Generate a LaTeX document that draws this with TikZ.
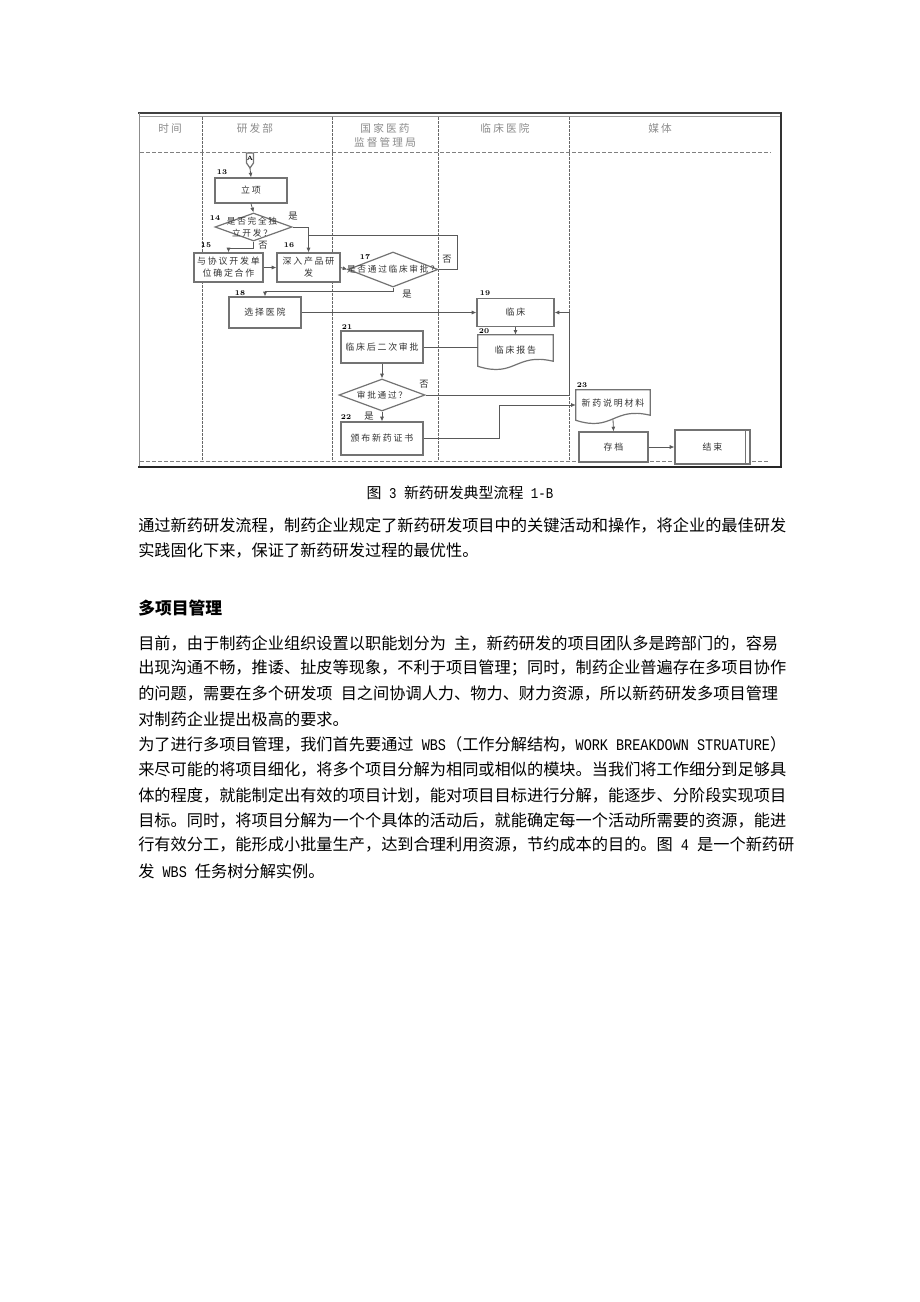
\documentclass[tikz,border=0pt]{standalone}
\usepackage{fontspec}
\usepackage{graphicx}
\usetikzlibrary{arrows.meta,shapes.geometric,calc}
\newfontfamily\cjk{Noto Sans CJK SC}
\newfontfamily\cjkls{Noto Sans CJK SC}[LetterSpace=20]
\newfontfamily\monof{Liberation Mono}
\newcommand\hw[1]{\scalebox{0.833}[1]{\monof #1}}
\begin{document}
\begin{tikzpicture}[x=0.75pt,y=-0.75pt,
  sz/.style 2 args={minimum width=#1*0.75pt, minimum height=#2*0.75pt},
  boxline/.style={draw=black!55, line width=0.9pt},
  box/.style={boxline, fill=white, inner sep=0pt, font=\cjkls\fontsize{6.7pt}{9pt}\selectfont, text=black!80, align=center},
  docn/.style={inner sep=0pt, font=\cjkls\fontsize{6.7pt}{9pt}\selectfont, text=black!80, align=center},
  dia/.style={diamond, boxline, fill=white, inner sep=0pt},
  dtext/.style={inner sep=0pt, font=\cjkls\fontsize{6.5pt}{9pt}\selectfont, text=black!80, align=center},
  num/.style={inner sep=0pt, font=\bfseries\fontsize{5.5pt}{6pt}\selectfont, text=black},
  yn/.style={inner sep=0pt, font=\cjk\fontsize{7pt}{8pt}\selectfont, text=black!80},
  hdr/.style={inner sep=0pt, font=\cjkls\fontsize{8pt}{11pt}\selectfont, text=black!45, align=center},
  conn/.style={draw=black!65, line width=0.6pt},
  arr/.style={conn, -{Latex[length=3.5pt,width=3pt]}},
  dashline/.style={draw=black!50, line width=0.6pt, dash pattern=on 3pt off 1.5pt},
  divline/.style={draw=black!60, line width=0.7pt, dash pattern=on 2pt off 1pt},
  body/.style={anchor=west, inner sep=0pt, font=\cjk\fontsize{12.15pt}{14pt}\selectfont, text=black},
]
\fill[white] (0,0) rectangle (920,1302);
\useasboundingbox (0,0) rectangle (920,1302);

% ---------- frame ----------
\draw[line width=1.4pt, black!75] (138,113) -- (782,113);
\draw[line width=0.5pt, black!40] (139,116.5) -- (780,116.5);
\draw[line width=0.6pt, black!45] (139,113) -- (139,467);
\draw[line width=1pt, black!80] (781,113) -- (781,467);
\draw[line width=1.4pt, black!85] (138,467) -- (782,467);
\draw[dashline] (140,152) -- (771,152);
\draw[dashline] (140,461.5) -- (770,461.5);
\foreach \x in {202,332,438,569} \draw[divline] (\x,117) -- (\x,461);

% ---------- headers ----------
\node[hdr] (h1) at (170,128) {时间};
\node[hdr] (h2) at (255,128) {研发部};
\node[hdr] (h3) at (385,135.5) {国家医药\\监督管理局};
\node[hdr] (h4) at (505,128) {临床医院};
\node[hdr] (h5) at (660,128) {媒体};

% ---------- nodes ----------
\draw[boxline, fill=white] (246.5,153) -- (253.5,153) -- (253.5,163) -- (250,168) -- (246.5,163) -- cycle;
\node[inner sep=0pt, font=\bfseries\fontsize{4.5pt}{5pt}\selectfont] (A) at (250,158.5) {A};
\coordinate (Atip) at (250,168);

\node[box, sz={72}{25}] (n13) at (251,190.5) {立项};
\node[num] (l13) at (222,172) {13};

\node[dia, sz={77}{28}] (d14) at (253.5,227) {};
\node[dtext] (t14) at (252,227) {是否完全独\\立开发？};
\node[num] (l14) at (215,218) {14};

\node[box, sz={69}{29}] (n15) at (228.5,267.5) {与协议开发单\\位确定合作};
\node[num] (l15) at (206,245) {15};
\node[box, sz={63}{29}] (n16) at (308.5,267.5) {深入产品研\\发};
\node[num] (l16) at (289,245) {16};

\node[dia, sz={90}{35}] (d17) at (393,269.5) {};
\node[dtext] (t17) at (393,269.5) {是否通过临床审批？};
\node[num] (l17) at (365,257) {17};

\node[box, sz={72}{31}] (n18) at (265,312.5) {选择医院};
\node[num] (l18) at (240,293.5) {18};

\node[box, sz={77}{28}] (n19) at (515.5,312.5) {临床};
\node[num] (l19) at (485,293.5) {19};

\node[docn, sz={75}{31}] (n20) at (515.5,350.5) {};
\draw[boxline, fill=white] (n20.south west) -- (n20.north west) -- (n20.north east) -- ($(n20.south east)+(0,-5)$) .. controls ($(n20.south)+(0,-14)$) and ($(n20.south)+(0,12)$) .. (n20.south west) -- cycle;
\node[docn] at (n20) {临床报告};
\node[num] (l20) at (484,331) {20};

\node[box, sz={82}{32}] (n21) at (382,347) {临床后二次审批};
\node[num] (l21) at (347,327) {21};

\node[dia, sz={86}{32}] (d21) at (382,395) {};
\node[dtext] (t21) at (382,395) {审批通过？};

\node[box, sz={82}{33}] (n22) at (382,438.5) {颁布新药证书};
\node[num] (l22) at (346,417) {22};

\node[docn, sz={74}{30}] (n23) at (613,405) {};
\draw[boxline, fill=white] (n23.south west) -- (n23.north west) -- (n23.north east) -- ($(n23.south east)+(0,-5)$) .. controls ($(n23.south)+(0,-14)$) and ($(n23.south)+(0,12)$) .. (n23.south west) -- cycle;
\node[docn] at ($(n23)+(0,-2)$) {新药说明材料};
\node[num] (l23) at (582,385.5) {23};

\node[box, sz={69}{30}] (n24) at (613.5,447) {存档};
\node[box, sz={75}{34}] (n25) at (712.5,447) {结束};
\draw[boxline] ($(n25.north east)+(-5,0)$) -- ($(n25.south east)+(-5,0)$);

% ---------- connectors ----------
\draw[arr] (Atip) -- (n13.north);
\draw[arr] (n13.south) -- (d14.north);
\draw[arr] (d14.east) -| (n16.north);
\node[yn] (y14) at (293,216) {是};
\draw[arr] (d14.south) -- ++(0,7) -| (n15.north);
\node[yn] (no14) at (263,245) {否};
\draw[arr] (n15.east) -- (n16.west);
\draw[arr] (n16.east) -- (d17.west);
\coordinate (loopR) at (457,235);
\draw[conn] (d17.east) -| (loopR) -- (n16.north |- loopR);
\node[yn] (no17) at (447,259) {否};
\draw[arr] (d17.south) -- ++(0,3.5) -| (n18.north);
\node[yn] (y17) at (407,294) {是};
\draw[arr] (n18.east) -- (n19.west);
\draw[arr] (n19.south) -- (n20.north);
\draw[conn] (n21.east) -- (n20.west |- n21.east);
\draw[arr] (n21.south) -- (d21.north);
\coordinate (rv) at (569,395);
\draw[arr] (d21.east) -- (rv) |- (n19.east);
\node[yn] (no21) at (424,384) {否};
\draw[arr] (d21.south) -- (n22.north);
\node[yn] (y21) at (369,416) {是};
\coordinate (mv) at (499,438.5);
\draw[arr] (n22.east) -- (mv) |- (n23.west);
\draw[arr] ($(n23.south)+(0,-1)$) -- (n24.north);
\draw[arr] (n24.east) -- (n25.west);

% ---------- text below ----------
\node[inner sep=0pt, font=\cjk\fontsize{11.2pt}{13pt}\selectfont] (cap) at (460,493) {图\hw{\ 3\ }新药研发典型流程\hw{\ 1-B}};

\node[body] (p1a) at (138,525) {通过新药研发流程，制药企业规定了新药研发项目中的关键活动和操作，将企业的最佳研发};
\node[body] (p1b) at (138,551) {实践固化下来，保证了新药研发过程的最优性。};

\node[body, font=\cjk\bfseries\fontsize{12.6pt}{14pt}\selectfont] (hd) at (138,608) {多项目管理};

\node[body] (p2a) at (138,643) {目前，由于制药企业组织设置以职能划分为\hspace{.5em}主，新药研发的项目团队多是跨部门的，容易};
\node[body] (p2b) at (138,668) {出现沟通不畅，推诿、扯皮等现象，不利于项目管理；同时，制药企业普遍存在多项目协作};
\node[body] (p2c) at (138,694) {的问题，需要在多个研发项\hspace{.5em}目之间协调人力、物力、财力资源，所以新药研发多项目管理};
\node[body] (p2d) at (138,719) {对制药企业提出极高的要求。};

\node[body] (p3a) at (138,744) {为了进行多项目管理，我们首先要通过\hw{\ WBS}（工作分解结构，\hw{WORK BREAKDOWN STRUATURE}）};
\node[body] (p3b) at (138,770) {来尽可能的将项目细化，将多个项目分解为相同或相似的模块。当我们将工作细分到足够具};
\node[body] (p3c) at (138,795) {体的程度，就能制定出有效的项目计划，能对项目目标进行分解，能逐步、分阶段实现项目};
\node[body] (p3d) at (138,820) {目标。同时，将项目分解为一个个具体的活动后，就能确定每一个活动所需要的资源，能进};
\node[body] (p3e) at (138,845) {行有效分工，能形成小批量生产，达到合理利用资源，节约成本的目的。图\hw{\ 4\ }是一个新药研};
\node[body] (p3f) at (138,871) {发\hw{\ WBS\ }任务树分解实例。};
\end{tikzpicture}
\end{document}
